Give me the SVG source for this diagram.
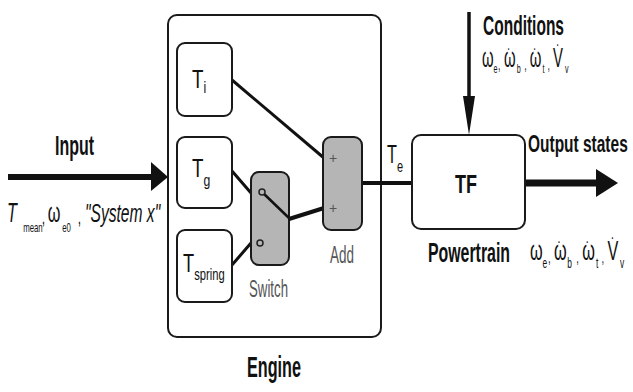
<svg xmlns="http://www.w3.org/2000/svg" width="633" height="392" viewBox="0 0 633 392">
<style>
  .box { fill: #ffffff; stroke: #1a1a1a; stroke-width: 2; }
  .gbox { fill: #b5b5b5; stroke: #1a1a1a; stroke-width: 2; }
  .lbl { font-family: "Liberation Sans", Arial, sans-serif; font-weight: bold; fill: #111; }
  .sub { font-family: "Liberation Sans", Arial, sans-serif; fill: #555; }
  .m { font-family: "Liberation Sans", Arial, sans-serif; fill: #111; }
  .ln { stroke: #111; fill: none; stroke-linecap: butt; stroke-linejoin: miter; }
  .ah { fill: #111; stroke: none; }
  .port { fill: #b5b5b5; stroke: #222; stroke-width: 1.5; }
</style>
<rect width="633" height="392" fill="#ffffff"/>

<g id="engine">
  <rect class="box" x="168" y="15" width="213" height="322" rx="9"/>
  <text class="lbl" x="247" y="377" font-size="29" textLength="54" lengthAdjust="spacingAndGlyphs">Engine</text>
</g>

<g id="connectors">
  <line class="ln" x1="8" y1="177" x2="153" y2="177" stroke-width="6"/>
  <polygon class="ah" points="151,162 168,177 151,191"/>
  <line class="ln" x1="469" y1="12" x2="469" y2="100" stroke-width="3.5"/>
  <polygon class="ah" points="463,96 475,96 469,135"/>
  <line class="ln" x1="525" y1="183" x2="598" y2="183" stroke-width="7"/>
  <polygon class="ah" points="596,169 618,183 596,197"/>
  <line class="ln" x1="362" y1="183" x2="412" y2="183" stroke-width="4"/>
  <line class="ln" x1="232" y1="80" x2="324" y2="158" stroke-width="3"/>
  <polyline class="ln" points="232,171 251,193 259,193" stroke-width="3"/>
  <polyline class="ln" points="232,265 251,243 257,243" stroke-width="3"/>
</g>

<g id="Ti">
  <rect class="box" x="177" y="43" width="55" height="73" rx="8"/>
  <g transform="translate(192,88) scale(0.72,1)">
    <text class="m" x="0" y="0" font-size="26">T<tspan font-size="17" dy="5">i</tspan></text>
  </g>
</g>

<g id="Tg">
  <rect class="box" x="177" y="137" width="55" height="71" rx="8"/>
  <g transform="translate(192,177) scale(0.72,1)">
    <text class="m" x="0" y="0" font-size="26">T<tspan font-size="17" dy="9">g</tspan></text>
  </g>
</g>

<g id="Tspring">
  <rect class="box" x="177" y="230" width="55" height="72" rx="8"/>
  <g transform="translate(183,272) scale(0.7,1)">
    <text class="m" x="0" y="0" font-size="26">T<tspan font-size="16" dy="8">spring</tspan></text>
  </g>
</g>

<g id="switch">
  <rect class="gbox" x="251" y="172" width="38" height="93" rx="8"/>
  <line class="ln" x1="262" y1="192" x2="290" y2="219" stroke-width="2.5"/>
  <line class="ln" x1="289" y1="219" x2="324" y2="208" stroke-width="4"/>
  <circle class="port" cx="262" cy="192" r="3"/>
  <circle class="port" cx="260" cy="243" r="3"/>
  <text class="sub" x="249" y="297" font-size="23" textLength="39" lengthAdjust="spacingAndGlyphs">Switch</text>
</g>

<g id="add">
  <rect class="gbox" x="323" y="137" width="39" height="93" rx="8"/>
  <text class="sub" x="329" y="163" font-size="14" fill="#333">+</text>
  <text class="sub" x="329" y="213" font-size="14" fill="#333">+</text>
  <text class="sub" x="330" y="263" font-size="23" textLength="24" lengthAdjust="spacingAndGlyphs">Add</text>
</g>

<g id="te-label">
  <g transform="translate(387,163) scale(0.65,1)">
    <text class="m" x="0" y="0" font-size="25">T<tspan font-size="17" dy="9">e</tspan></text>
  </g>
</g>

<g id="powertrain">
  <rect class="box" x="412" y="135" width="113" height="94" rx="9"/>
  <text class="lbl" x="455" y="193" font-size="26" textLength="22" lengthAdjust="spacingAndGlyphs">TF</text>
  <text class="lbl" x="428" y="262" font-size="27" textLength="82" lengthAdjust="spacingAndGlyphs">Powertrain</text>
</g>

<g id="input">
  <text class="lbl" x="55" y="155" font-size="27" textLength="39" lengthAdjust="spacingAndGlyphs">Input</text>
  <g transform="translate(7,222) scale(0.6,1)">
    <text class="m" font-size="27"><tspan x="0" y="0" font-style="italic">T</tspan><tspan x="27" y="10" font-size="13">mean</tspan><tspan x="58" y="2" font-size="20">,</tspan><tspan x="68" y="0">ω</tspan><tspan x="92" y="10" font-size="13">e0</tspan><tspan x="118" y="2" font-size="20">,</tspan><tspan x="130" y="0" font-style="italic" font-size="26">"System x"</tspan></text>
  </g>
</g>

<g id="conditions">
  <text class="lbl" x="483" y="35" font-size="27" textLength="81" lengthAdjust="spacingAndGlyphs">Conditions</text>
  <g transform="translate(482,67) scale(0.55,1)">
    <text class="m" font-size="27"><tspan x="0" y="0">ω</tspan><tspan x="21" y="6" font-size="13">e</tspan><tspan x="29" y="3" font-size="16">,</tspan><tspan x="40" y="0">ω</tspan><tspan x="46" y="-4" font-size="20">˙</tspan><tspan x="63" y="6" font-size="13">b</tspan><tspan x="77" y="3" font-size="16">,</tspan><tspan x="87" y="0">ω</tspan><tspan x="93" y="-4" font-size="20">˙</tspan><tspan x="110" y="6" font-size="13">t</tspan><tspan x="119" y="3" font-size="16">,</tspan><tspan x="129" y="0">V</tspan><tspan x="135" y="-8" font-size="20">˙</tspan><tspan x="151" y="6" font-size="13">v</tspan></text>
  </g>
</g>

<g id="output">
  <g transform="translate(528,152) scale(0.645,1)">
    <text class="lbl" x="0" y="0" font-size="24">Output states</text>
  </g>
  <g transform="translate(530,260) scale(0.6,1)">
    <text class="m" font-size="27"><tspan x="0" y="0">ω</tspan><tspan x="21" y="8" font-size="14">e</tspan><tspan x="30" y="3" font-size="16">,</tspan><tspan x="40" y="0">ω</tspan><tspan x="46" y="-4" font-size="20">˙</tspan><tspan x="62" y="8" font-size="14">b</tspan><tspan x="77" y="3" font-size="16">,</tspan><tspan x="87" y="0">ω</tspan><tspan x="93" y="-4" font-size="20">˙</tspan><tspan x="110" y="8" font-size="14">t</tspan><tspan x="119" y="3" font-size="16">,</tspan><tspan x="129" y="0">V</tspan><tspan x="135" y="-8" font-size="20">˙</tspan><tspan x="150" y="8" font-size="14">v</tspan></text>
  </g>
</g>
</svg>
